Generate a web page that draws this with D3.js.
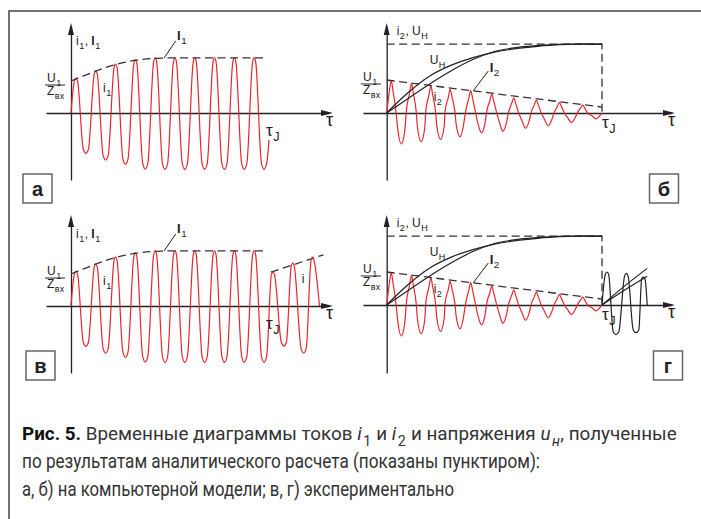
<!DOCTYPE html>
<html>
<head>
<meta charset="utf-8">
<script src="https://cdn.jsdelivr.net/npm/d3@7"></script>
<style>
  body { margin: 0; background: #fff; }
  svg text { font-family: "Liberation Sans", Arial, sans-serif; fill: #222; }
</style>
</head>
<body>
<div id="chart"></div>
<script>
// ================== DATA (time in units, tauJ = 10; current in U1/Zвх) ==================
// panels а, в : current i1
const i1PeakT   = [0.25, 1.25, 2.25, 3.25, 4.25, 5.25, 6.25, 7.25, 8.25, 9.25];
const i1PeakV   = [1.09, 1.31, 1.53, 1.66, 1.72, 1.72, 1.72, 1.72, 1.72, 1.72];
const i1TroughT = [0.75, 1.75, 2.75, 3.75, 4.75, 5.75, 6.75, 7.75, 8.75, 9.75];
const i1TroughV = [-1.26, -1.47, -1.60, -1.75, -1.76, -1.76, -1.76, -1.76, -1.76, -1.76];
const i1EndV = -0.84;                       // value where trace is cut at tauJ (а)
const I1T = [0, 1, 2, 3, 4, 5, 9.8];        // analytic envelope (dashed)
const I1V = [1.0, 1.25, 1.47, 1.62, 1.70, 1.72, 1.72];
// panel в : continuation after tauJ
const iXPeakT   = [10.2, 11.2, 12.2];
const iXPeakV   = [1.06, 1.34, 1.53];
const iXTroughT = [10.75, 11.75];
const iXTroughV = [-1.25, -1.47];
const iXEndT = 12.55;
const iDashT = [10.1, 12.75];
const iDashV = [1.06, 1.6];

// panels б, г : current i2 and voltage uН
const i2PeakT   = [0.21, 1.15, 2.05, 2.95, 3.9, 4.88, 5.9, 6.95, 8.02, 9.1];
const i2PeakV   = [0.98, 0.90, 0.82, 0.72, 0.68, 0.57, 0.46, 0.39, 0.32, 0.24];
const i2TroughT = [0.68, 1.6, 2.5, 3.4, 4.4, 5.4, 6.45, 7.5, 8.58, 9.72];
const i2TroughV = [-0.94, -0.87, -0.80, -0.72, -0.60, -0.55, -0.46, -0.39, -0.29, -0.18];
const I2T = [0, 10];
const I2V = [1.0, 0.18];
const uHT  = [0, 1, 2, 3, 4, 5, 6, 7, 8, 9, 10];
const uHA  = [0, 0.62, 1.12, 1.45, 1.68, 1.84, 1.95, 2.02, 2.07, 2.09, 2.09];
const uHB  = [0, 0.44, 0.88, 1.28, 1.62, 1.86, 1.98, 2.04, 2.08, 2.09, 2.09];
const uHMax = 2.09;
// panel г : after tauJ
const gXPeakT   = [10.23, 11.13, 11.92];
const gXPeakV   = [1.0, 0.96, 0.85];
const gXTroughT = [10.65, 11.58];
const gXTroughV = [-0.9, -0.84];
const gXEndT = 12.1;
const uHxT = [10, 11, 12.1];
const uHxA = [0, 0.55, 1.11];
const uHxB = [0, 0.43, 0.87];

// ================== SVG ==================
const W = 701, H = 519;
const RED = "#e8262e", INK = "#222";
const svg = d3.select("#chart").append("svg").attr("width", W).attr("height", H);

svg.append("path").attr("d", "M9,519V11H701")
  .attr("fill", "none").attr("stroke", "#444").attr("stroke-width", 1.5);

const panels = [
  { name: "а", x0: 71,    x10: 269, y0: 113, unit: 32, yTop: 23,  yBot: 180, axL: 46,  axR: 333, box: [23, 174] },
  { name: "б", x0: 386.7, x10: 602, y0: 113, unit: 33, yTop: 23,  yBot: 180, axL: 363, axR: 675, box: [649.5, 174] },
  { name: "в", x0: 71,    x10: 269, y0: 306, unit: 32, yTop: 215, yBot: 373, axL: 46,  axR: 333, box: [26, 351] },
  { name: "г", x0: 386.7, x10: 602, y0: 305, unit: 33, yTop: 215, yBot: 373, axL: 363, axR: 675, box: [653.5, 351] }
];

// shapes of one half-wave around its extremum: [dt, fraction of extremum]
const tplCap    = [[-0.08, 0.92], [0, 1], [0.08, 0.92]];
const tplU      = [[-0.13, 0.9], [0, 1], [0.13, 0.9]];
const tplSpike  = [[-0.24, 0.05], [-0.09, 0.65], [0, 1], [0.09, 0.65], [0.22, 0.05]];
const tplBowl   = [[-0.17, 0.5], [0, 1], [0.17, 0.5]];

function zip(ts, vs) { return ts.map((t, i) => ({ t, v: vs[i] })); }

function wave(start, extrema, end, tplUp, tplDown) {
  const pts = [start];
  extrema.sort((a, b) => a.t - b.t).forEach(e => {
    (e.v > 0 ? tplUp : tplDown).forEach(([dt, f]) => {
      const t = e.t + dt;
      if (t > pts[pts.length - 1][0]) pts.push([t, e.v * f]);
    });
  });
  pts.push(end);
  return pts;
}

function rich(g, x, y, parts, size) {
  const t = g.append("text").attr("x", x).attr("y", y).attr("font-size", size);
  let down = false, prevItalic = false;
  parts.forEach(p => {
    const s = t.append("tspan").text(p.s);
    if (p.b) s.attr("font-weight", "bold");
    if (p.i) s.attr("font-style", "italic");
    if (p.sub) {
      s.attr("font-size", size * 0.75);
      if (!down) { s.attr("dy", size * 0.3).attr("dx", prevItalic ? 1.5 : 0.5); down = true; }
    } else if (down) { s.attr("dy", -size * 0.3).attr("dx", 0.5); down = false; }
    prevItalic = !!p.i;
  });
  return t;
}

function drawPanel(p) {
  const g = svg.append("g");
  const x = d3.scaleLinear().domain([0, 10]).range([p.x0, p.x10]);
  const y = d3.scaleLinear().domain([0, 1]).range([p.y0, p.y0 - p.unit]);
  const line = d3.line().x(d => x(d[0])).y(d => y(d[1])).curve(d3.curveMonotoneX);
  const dashed = (pts, curve) => g.append("path")
    .attr("d", d3.line().x(d => x(d[0])).y(d => y(d[1])).curve(curve || d3.curveMonotoneX)(pts))
    .attr("fill", "none").attr("stroke", "#333").attr("stroke-width", 1.3).attr("stroke-dasharray", "8,4.5");
  const solid = (pts, color, w) => g.append("path").attr("d", line(pts))
    .attr("fill", "none").attr("stroke", color).attr("stroke-width", w || 1.2).attr("stroke-linejoin", "round");

  // axes (no ticks)
  const xa = d3.scaleLinear().domain([x.invert(p.axL), x.invert(p.axR - 4)]).range([p.axL, p.axR - 4]);
  const ya = d3.scaleLinear().domain([y.invert(p.yBot), y.invert(p.yTop + 4)]).range([p.yBot, p.yTop + 4]);
  g.append("g").attr("transform", `translate(0,${p.y0})`)
    .call(d3.axisBottom(xa).tickValues([]).tickSizeOuter(0))
    .select(".domain").attr("stroke", INK).attr("stroke-width", 1.3);
  g.append("g").attr("transform", `translate(${p.x0},0)`)
    .call(d3.axisLeft(ya).tickValues([]).tickSizeOuter(0))
    .select(".domain").attr("stroke", INK).attr("stroke-width", 1.3);
  g.append("path").attr("d", `M${p.axR},${p.y0}L${p.axR - 12},${p.y0 - 3}L${p.axR - 12},${p.y0 + 3}Z`).attr("fill", INK);
  g.append("path").attr("d", `M${p.x0},${p.yTop}L${p.x0 - 3},${p.yTop + 12}L${p.x0 + 3},${p.yTop + 12}Z`).attr("fill", INK);

  // panel letter
  g.append("rect").attr("x", p.box[0]).attr("y", p.box[1]).attr("width", 29).attr("height", 29)
    .attr("fill", "none").attr("stroke", "#666").attr("stroke-width", 1.5);
  g.append("text").attr("x", p.box[0] + 14.5).attr("y", p.box[1] + 21.5).attr("text-anchor", "middle")
    .attr("font-size", 20).attr("font-weight", "bold").attr("fill", "#111").text(p.name);

  // U1/Zвх
  const fx = p.x0 < 200 ? 47 : 363;
  rich(g, fx, y(1) + 1, [{ s: "U" }, { s: "1", sub: 1 }], 12);
  g.append("line").attr("x1", fx - 2).attr("x2", fx + 18).attr("y1", y(1) + 4).attr("y2", y(1) + 4)
    .attr("stroke", INK).attr("stroke-width", 1);
  rich(g, fx, y(1) + 14, [{ s: "Z" }, { s: "вх", sub: 1 }], 12);
  g.append("text").attr("x", p.axR - 7).attr("y", p.y0 + 13).attr("font-size", 18).text("τ");

  if (p.name === "а" || p.name === "в") {
    const ext = zip(i1PeakT, i1PeakV).concat(zip(i1TroughT, i1TroughV));
    let pts;
    if (p.name === "а") {
      pts = wave([0, 0], ext, [10, i1EndV], tplCap, tplU);
    } else {
      pts = wave([0, 0], ext.concat(zip(iXPeakT, iXPeakV), zip(iXTroughT, iXTroughV)), [iXEndT, 0], tplCap, tplU);
      dashed(zip(iDashT, iDashV).map(d => [d.t, d.v]), d3.curveLinear);
      rich(g, x(11.65), y(0) - 23, [{ s: "i" }], 12);
    }
    solid(pts, RED, 1.2);
    dashed(zip(I1T, I1V).map(d => [d.t, d.v]));
    rich(g, p.x0 + 5, p.y0 - 68, [{ s: "i" }, { s: "1", sub: 1 }, { s: ", " }, { s: "I", b: 1 }, { s: "1", sub: 1 }], 12);
    rich(g, p.x0 + 106, p.y0 - 73, [{ s: "I", b: 1 }, { s: "1", sub: 1 }], 13);
    g.append("line").attr("x1", p.x0 + 104.7).attr("y1", p.y0 - 72).attr("x2", p.x0 + 93).attr("y2", p.y0 - 55)
      .attr("stroke", INK).attr("stroke-width", 1);
    rich(g, p.x0 + 32, p.y0 - 21, [{ s: "i" }, { s: "1", sub: 1 }], 12);
    rich(g, x(9.85), p.y0 + 23, [{ s: "τ" }, { s: "J", sub: 1 }], 17);
  } else {
    const ext = zip(i2PeakT, i2PeakV).concat(zip(i2TroughT, i2TroughV));
    solid(wave([0, 0], ext, [10, 0], tplSpike, tplBowl), RED, 1.2);
    dashed([[0, uHMax], [10, uHMax], [10, 0]], d3.curveLinear);
    dashed(zip(I2T, I2V).map(d => [d.t, d.v]), d3.curveLinear);
    solid(zip(uHT, uHA).map(d => [d.t, d.v]), INK, 1.2);
    solid(zip(uHT, uHB).map(d => [d.t, d.v]), INK, 1.2);
    if (p.name === "г") {
      const gx = zip(gXPeakT, gXPeakV).concat(zip(gXTroughT, gXTroughV));
      solid(wave([10, 0], gx, [gXEndT, 0], tplCap, tplU), INK, 1.2);
      solid(zip(uHxT, uHxA).map(d => [d.t, d.v]), INK, 1.2);
      solid(zip(uHxT, uHxB).map(d => [d.t, d.v]), INK, 1.2);
    }
    rich(g, p.x0 + 10, p.y0 - 78, [{ s: "i" }, { s: "2", sub: 1 }, { s: ", U" }, { s: "H", sub: 1 }], 12);
    rich(g, p.x0 + 43, p.y0 - 49, [{ s: "U" }, { s: "H", sub: 1 }], 12);
    rich(g, p.x0 + 103, p.y0 - 41, [{ s: "I", b: 1 }, { s: "2", sub: 1 }], 13);
    g.append("line").attr("x1", p.x0 + 101.6).attr("y1", p.y0 - 42).attr("x2", p.x0 + 86.6).attr("y2", p.y0 - 22.3)
      .attr("stroke", INK).attr("stroke-width", 1);
    rich(g, p.x0 + 47, p.y0 - 12, [{ s: "i" }, { s: "2", sub: 1 }], 12);
    rich(g, x(10), p.y0 + 15, [{ s: "τ" }, { s: "J", sub: 1 }], 17);
  }
}

panels.forEach(drawPanel);

// ================== CAPTION ==================
const cap = svg.append("g");
const capLines = [
  [{ s: "Рис. 5.", b: 1 }, { s: " Временные диаграммы токов " }, { s: "i", i: 1 }, { s: "1", sub: 1 }, { s: " и " },
   { s: "i", i: 1 }, { s: "2", sub: 1 }, { s: " и напряжения " }, { s: "u", i: 1 }, { s: "н", sub: 1, i: 1 }, { s: ", полученные" }],
  [{ s: "по результатам аналитического расчета (показаны пунктиром):" }],
  [{ s: "а, б) на компьютерной модели; в, г) экспериментально" }]
];
const capY = [440, 468, 496];
const capW = [649, 518, 432];
capLines.forEach((parts, i) => {
  const t = rich(cap, 22, capY[i], parts, 20);
  t.style("font-family", "Roboto, 'Liberation Sans', sans-serif").style("fill", "#333");
  t.selectAll("tspan").style("fill", "#333");
  if (i === 0) {
    // first line: fit by font size so the sub/italic runs keep their own spacing
    t.select("tspan").style("fill", "#111");
    const fs = 20 * capW[0] / t.node().getComputedTextLength();
    t.attr("font-size", fs);
    t.selectAll("tspan").each(function (d, k) {
      const part = parts[k];
      const s = d3.select(this);
      if (part.sub) s.attr("font-size", fs * 0.75);
      if (s.attr("dy")) s.attr("dy", Math.sign(+s.attr("dy")) * fs * 0.3);
    });
  } else {
    t.attr("textLength", capW[i]).attr("lengthAdjust", "spacingAndGlyphs");
  }
});
</script>
</body>
</html>
